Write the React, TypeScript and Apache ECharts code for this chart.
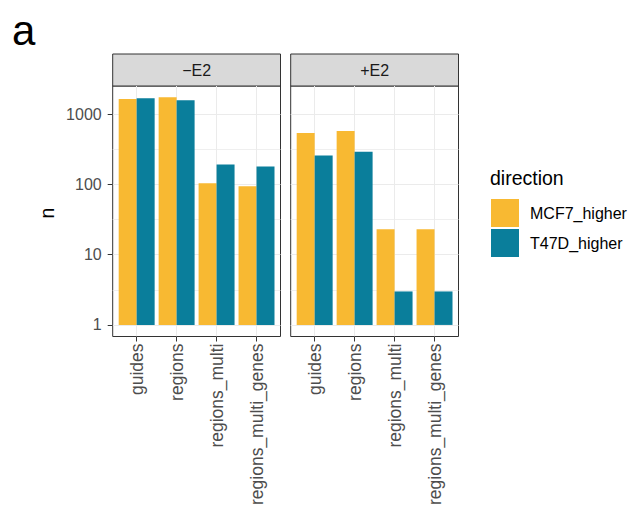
import React, { useEffect, useRef } from "react";
import * as echarts from "echarts";

const categories = ["guides", "regions", "regions_multi", "regions_multi_genes"];
const panels = ["−E2", "+E2"];
const seriesNames = ["MCF7_higher", "T47D_higher"];
const mcf7Minus = [1650, 1750, 104, 95];
const t47dMinus = [1700, 1590, 193, 181];
const mcf7Plus = [545, 582, 23, 23];
const t47dPlus = [259, 294, 3, 3];
const yTicks = [1, 10, 100, 1000];
const yMinorBreaks = [3.162, 31.62, 316.2];
const xPositions = [1, 2, 3, 4];

const COLORS = ["#F8B932", "#0A7E9B"];
const FONT = "Liberation Sans, Arial, Helvetica, sans-serif";

export default function App() {
  const ref = useRef<HTMLDivElement>(null);
  useEffect(() => {
    document.body.style.margin = "0";
    if (!ref.current) return;
    const chart = echarts.init(ref.current, null, { renderer: "svg" });
    const gridLeft = [112.7, 290.7];
    const gridWidth = 167.8;
    const gridTop = 86;
    const gridHeight = 253;
    const yMin = 0.684;
    const yMax = 2537;

    const grids = gridLeft.map((l) => ({
      left: l,
      top: gridTop,
      width: gridWidth,
      height: gridHeight,
      show: true,
      borderColor: "#333333",
      borderWidth: 1,
      backgroundColor: "#FFFFFF",
    }));

    const xAxes = gridLeft.map((_, i) => ({
      type: "value",
      gridIndex: i,
      min: 0.4,
      max: 4.6,
      axisLine: { show: false },
      axisTick: { show: true, customValues: xPositions, length: 5, lineStyle: { color: "#333333", width: 1 } },
      axisLabel: {
        customValues: xPositions,
        rotate: 90,
        margin: 7,
        fontSize: 17.5,
        color: "#4D4D4D",
        fontFamily: FONT,
        formatter: (v: number) => categories[Math.round(v) - 1] ?? "",
      },
      splitLine: { show: true, lineStyle: { color: "#EBEBEB", width: 1 } },
    }));

    const yAxes: any[] = [];
    gridLeft.forEach((_, i) => {
      yAxes.push({
        type: "log",
        logBase: 10,
        gridIndex: i,
        min: yMin,
        max: yMax,
        axisLine: { show: false },
        axisTick: { show: i === 0, customValues: yTicks, length: 5, lineStyle: { color: "#333333", width: 1 } },
        axisLabel: {
          show: i === 0,
          customValues: yTicks,
          margin: 11,
          fontSize: 16,
          color: "#4D4D4D",
          fontFamily: FONT,
          formatter: (v: number) => String(Math.round(v)),
        },
        splitLine: { show: true, lineStyle: { color: "#EBEBEB", width: 1 } },
      });
    });
    gridLeft.forEach((_, i) => {
      yAxes.push({
        type: "log",
        logBase: 10,
        gridIndex: i,
        min: yMin,
        max: yMax,
        axisLine: { show: false },
        axisTick: { show: false, customValues: yMinorBreaks },
        axisLabel: { show: false, customValues: yMinorBreaks },
        splitLine: { show: true, lineStyle: { color: "#EBEBEB", width: 0.8 } },
      });
    });

    const mk = (name: string, vals: number[], gi: number, color: string) => ({
      type: "bar",
      name,
      xAxisIndex: gi,
      yAxisIndex: gi,
      data: vals.map((v, k) => [xPositions[k], v]),
      barGap: "0%",
      barCategoryGap: "10%",
      itemStyle: { color },
      z: 3,
    });

    const graphics: any[] = [];
    gridLeft.forEach((l, i) => {
      graphics.push({
        type: "rect",
        shape: { x: l, y: 54, width: gridWidth, height: 32 },
        style: { fill: "#D9D9D9", stroke: "#333333", lineWidth: 1 },
      });
      graphics.push({
        type: "text",
        x: l + gridWidth / 2,
        y: 70,
        style: {
          text: panels[i],
          fontSize: 16,
          fontFamily: FONT,
          fill: "#1A1A1A",
          align: "center",
          verticalAlign: "middle",
        },
      });
    });
    graphics.push({
      type: "text",
      x: 12,
      y: 30,
      style: { text: "a", fontSize: 42, fontFamily: FONT, fill: "#000000", verticalAlign: "middle" },
    });
    graphics.push({
      type: "text",
      x: 47,
      y: 213,
      rotation: Math.PI / 2,
      style: { text: "n", fontSize: 19.5, fontFamily: FONT, fill: "#000000", align: "center", verticalAlign: "middle" },
    });
    graphics.push({
      type: "text",
      x: 490,
      y: 178,
      style: { text: "direction", fontSize: 19.5, fontFamily: FONT, fill: "#000000", verticalAlign: "middle" },
    });

    chart.setOption({
      animation: false,
      backgroundColor: "#FFFFFF",
      grid: grids,
      xAxis: xAxes,
      yAxis: yAxes,
      legend: {
        data: seriesNames,
        orient: "vertical",
        left: 491,
        top: 199,
        padding: 0,
        itemWidth: 28,
        itemHeight: 28,
        itemGap: 2,
        icon: "rect",
        selectedMode: false,
        textStyle: { fontSize: 16, fontFamily: FONT, color: "#000000", padding: [0, 0, 0, 6] },
      },
      graphic: graphics,
      series: [
        mk(seriesNames[0], mcf7Minus, 0, COLORS[0]),
        mk(seriesNames[1], t47dMinus, 0, COLORS[1]),
        mk(seriesNames[0], mcf7Plus, 1, COLORS[0]),
        mk(seriesNames[1], t47dPlus, 1, COLORS[1]),
      ],
    });
    return () => chart.dispose();
  }, []);
  return <div ref={ref} style={{ width: 640, height: 508 }} />;
}
